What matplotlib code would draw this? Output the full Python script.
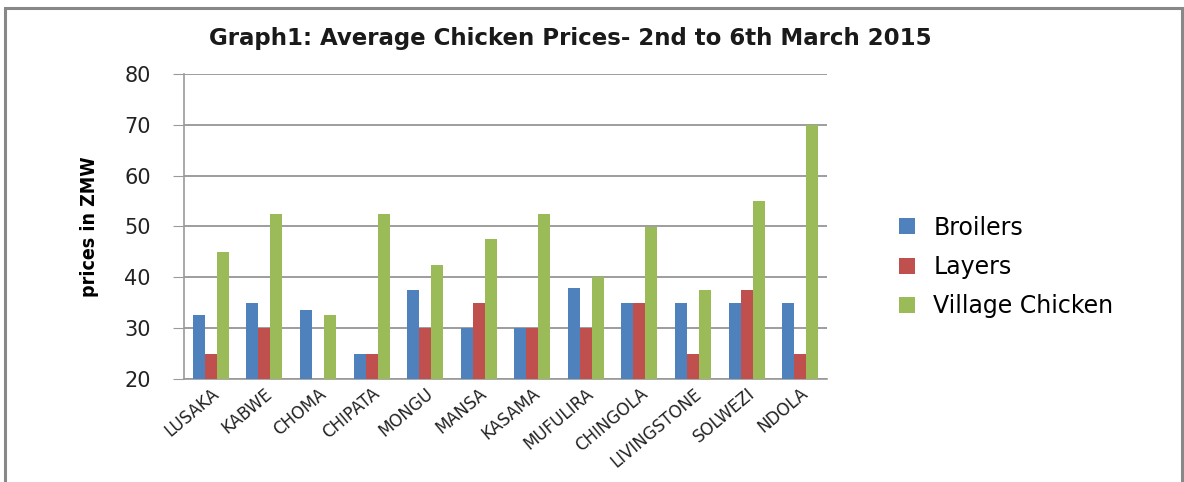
import numpy as np
import matplotlib
matplotlib.use("Agg")
import matplotlib.pyplot as plt
from matplotlib.patches import Rectangle

towns = ["LUSAKA", "KABWE", "CHOMA", "CHIPATA", "MONGU", "MANSA", "KASAMA",
         "MUFULIRA", "CHINGOLA", "LIVINGSTONE", "SOLWEZI", "NDOLA"]
broilers = [32.5, 35, 33.5, 25, 37.5, 30, 30, 38, 35, 35, 35, 35]
layers = [25, 30, np.nan, 25, 30, 35, 30, 30, 35, 25, 37.5, 25]
village = [45, 52.5, 32.5, 52.5, 42.5, 47.5, 52.5, 40, 50, 37.5, 55, 70]
series_names = ["Broilers", "Layers", "Village Chicken"]
colors = ["#4F81BD", "#C0504D", "#9BBB59"]

W, H = 1184, 482
fig = plt.figure(figsize=(W / 100, H / 100), dpi=100)
ax = fig.add_axes([184 / W, 1 - 379 / H, (827 - 184) / W, (379 - 74) / H])

x = np.arange(len(towns))
bw = 0.224
for i, (vals, name, c) in enumerate(zip([broilers, layers, village], series_names, colors)):
    vals = np.array(vals, dtype=float)
    ax.bar(x + (i - 1) * bw, vals - 20, width=bw, bottom=20, color=c,
           label=name, zorder=3)

ax.set_ylim(20, 80)
ax.set_xlim(-0.5, len(towns) - 0.5)
ax.set_yticks(range(20, 81, 10))
ax.yaxis.grid(True, color="#8c8c8c", linewidth=1.2, zorder=0)
for s in ["top", "right"]:
    ax.spines[s].set_visible(False)
ax.spines["left"].set_color("#9a9a9a")
ax.spines["bottom"].set_color("#9a9a9a")
ax.spines["left"].set_linewidth(1.2)
ax.spines["bottom"].set_linewidth(1.2)
ax.tick_params(axis="y", length=8, color="#9a9a9a", labelsize=15, pad=16,
               labelcolor="#222222")
ax.tick_params(axis="x", length=0, labelsize=12, pad=4, labelcolor="#222222")
ax.set_xticks(x)
ax.set_xticklabels(towns, rotation=40, ha="right", rotation_mode="anchor")

ax.set_ylabel("prices in ZMW", fontsize=14, fontweight="bold",
              fontstretch="condensed", labelpad=18)
fig.text(570 / W, 1 - 38 / H, "Graph1: Average Chicken Prices- 2nd to 6th March 2015",
         ha="center", va="center", fontsize=16.5, fontweight="bold",
         color="#1a1a1a")

fig.legend(loc="center left", bbox_to_anchor=(878 / W, 1 - 267 / H),
           frameon=False, fontsize=17, handlelength=0.65, handleheight=0.65,
           handletextpad=0.8, labelspacing=0.65)

fig.patches.append(Rectangle((5 / W, -0.05), (1182 - 5) / W, (H - 8) / H + 0.05,
                             transform=fig.transFigure, fill=False,
                             edgecolor="#888888", linewidth=2.2))

fig.savefig("out.png", dpi=100)
